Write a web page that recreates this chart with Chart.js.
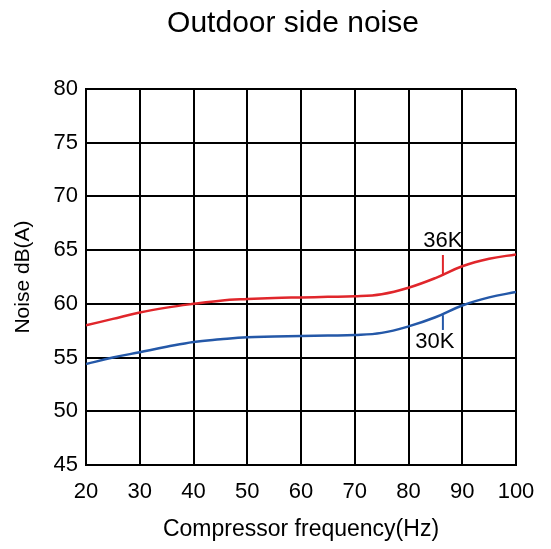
<!DOCTYPE html>
<html>
<head>
<meta charset="utf-8">
<script src="https://cdn.jsdelivr.net/npm/chart.js@4.4.0/dist/chart.umd.min.js"></script>
<style>
  html, body { margin: 0; padding: 0; background: #fff; }
  #wrap { width: 551px; height: 549px; }
</style>
</head>
<body>
<div id="wrap"><canvas id="noiseChart"></canvas></div>
<script>
// frequency (Hz) sample points
const freq = [20, 25, 30, 35, 40, 45, 50, 55, 60, 65, 70, 75, 80, 85, 90, 95, 100];
const noise36K = [58.0, 58.6, 59.2, 59.65, 60.0, 60.3, 60.45, 60.55, 60.6, 60.65, 60.7, 60.9, 61.5, 62.4, 63.5, 64.2, 64.6];
const noise30K = [54.4, 55.0, 55.5, 56.0, 56.45, 56.7, 56.9, 56.95, 57.0, 57.05, 57.1, 57.3, 57.9, 58.75, 59.85, 60.6, 61.1];

// curve labels with their leader lines (x, text position, leader from/to in dB)
const tagNames = ['36K', '30K'];
const tagLeaderX = [86.4, 86.4];
const tagLeaderFrom = [64.55, 57.57];
const tagLeaderTo = [62.65, 58.95];
const tagTextX = [86.4, 84.9];
const tagTextY = [65.9, 56.45];
const tagColors = ['#e0262b', '#2458a8'];

const FONT = '"Liberation Sans", Arial, sans-serif';
const toPoints = (ys) => freq.map((f, i) => ({ x: f, y: ys[i] }));

const curveTags = {
    id: 'curveTags',
    afterDatasetsDraw(chart) {
        const c = chart.ctx;
        const xs = chart.scales.x, ys = chart.scales.y;
        c.save();
        tagNames.forEach((name, i) => {
            const px = xs.getPixelForValue(tagLeaderX[i]);
            c.strokeStyle = tagColors[i];
            c.lineWidth = 2;
            c.beginPath();
            c.moveTo(px, ys.getPixelForValue(tagLeaderFrom[i]));
            c.lineTo(px, ys.getPixelForValue(tagLeaderTo[i]));
            c.stroke();
            c.fillStyle = '#000';
            c.font = '22px ' + FONT;
            c.textAlign = 'center';
            c.textBaseline = 'middle';
            c.fillText(name, xs.getPixelForValue(tagTextX[i]), ys.getPixelForValue(tagTextY[i]));
        });
        c.restore();
    }
};

const ctx = document.getElementById('noiseChart').getContext('2d');

new Chart(ctx, {
    type: 'line',
    data: {
        datasets: [{
            label: '36K',
            data: toPoints(noise36K),
            borderColor: tagColors[0],
            borderWidth: 2.5,
            pointRadius: 0,
            tension: 0.4,
        }, {
            label: '30K',
            data: toPoints(noise30K),
            borderColor: tagColors[1],
            borderWidth: 2.5,
            pointRadius: 0,
            tension: 0.4,
        }],
    },
    plugins: [curveTags],
    options: {
        responsive: true,
        maintainAspectRatio: false,
        animation: false,
        // left padding so the title sits centred over the plot like the original
        layout: { padding: { left: 35, right: 0, top: 0, bottom: 0 } },
        plugins: {
            legend: { display: false },
            tooltip: { enabled: false },
            title: {
                display: true,
                text: 'Outdoor side noise',
                color: '#000',
                font: { family: FONT, size: 30, weight: 'normal' },
                padding: { top: 6, bottom: 47 },
            },
        },
        scales: {
            x: {
                type: 'linear',
                min: 20,
                max: 100,
                ticks: {
                    stepSize: 10,
                    color: '#000',
                    padding: 14,
                    font: { family: FONT, size: 22 },
                },
                grid: { color: '#000', lineWidth: 2, drawTicks: false },
                border: { color: '#000', width: 2 },
                title: {
                    display: true,
                    text: 'Compressor frequency(Hz)',
                    color: '#000',
                    font: { family: FONT, size: 23 },
                    padding: { top: 0, bottom: 6 },
                },
                afterFit(axis) {
                    axis.height = 84;
                    axis.paddingRight = 35;
                },
            },
            y: {
                min: 45,
                max: 80,
                ticks: {
                    stepSize: 5,
                    color: '#000',
                    padding: 8,
                    font: { family: FONT, size: 22 },
                },
                grid: { color: '#000', lineWidth: 2, drawTicks: false },
                border: { color: '#000', width: 2 },
                title: {
                    display: true,
                    text: 'Noise dB(A)',
                    color: '#000',
                    font: { family: FONT, size: 21 },
                    padding: { top: -24, bottom: 0 },
                },
                afterFit(axis) { axis.width = 51; },
            },
        },
    },
});
</script>
</body>
</html>
